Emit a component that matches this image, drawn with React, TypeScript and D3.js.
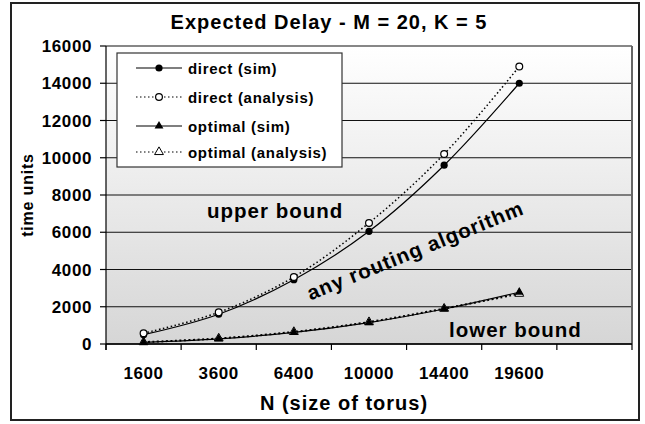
import React from 'react';
import * as d3 from 'd3';

const categories = ['1600', '3600', '6400', '10000', '14400', '19600', ''];
const directSim = [500, 1600, 3450, 6050, 9600, 14000];
const directAnalysis = [580, 1700, 3600, 6500, 10200, 14900];
const optimalSim = [90, 280, 620, 1150, 1880, 2780];
const optimalAnalysis = [100, 300, 650, 1180, 1900, 2700];
const yTicks = [0, 2000, 4000, 6000, 8000, 10000, 12000, 14000, 16000];
const legendLabels = ['direct (sim)', 'direct (analysis)', 'optimal (sim)', 'optimal (analysis)'];
const title = 'Expected Delay - M = 20, K = 5';
const xTitle = 'N (size of torus)';
const yTitle = 'time units';

const W = 645;
const H = 424;
const L = 106, R = 632, T = 46, B = 344;
const FONT = 'Arial, "Liberation Sans", Helvetica, sans-serif';

export default function App() {
  const x = d3.scaleBand<string>().domain(categories).range([L, R]).padding(0);
  const y = d3.scaleLinear().domain([0, 16000]).range([B, T]);
  const cx = (i: number) => (x(categories[i]) as number) + x.bandwidth() / 2;
  const line = d3
    .line<number>()
    .x((_, i) => cx(i))
    .y((v) => y(v))
    .curve(d3.curveCatmullRom.alpha(0.5));
  const tri = d3.symbol().type(d3.symbolTriangle).size(34)() as string;
  const bandEdges = categories.map((c) => x(c) as number).concat([R]);

  const legendRows = [
    { label: legendLabels[0], dash: undefined, marker: 'fc' },
    { label: legendLabels[1], dash: '1.5,2.5', marker: 'oc' },
    { label: legendLabels[2], dash: undefined, marker: 'ft' },
    { label: legendLabels[3], dash: '1.5,2.5', marker: 'ot' },
  ];
  const legendY = [68, 97, 126, 152];

  const marker = (kind: string, px: number, py: number, key: string) => {
    if (kind === 'fc') return <circle key={key} cx={px} cy={py} r={3.6} fill="#000" />;
    if (kind === 'oc')
      return <circle key={key} cx={px} cy={py} r={3.4} fill="#fff" stroke="#000" strokeWidth={1.2} />;
    if (kind === 'ft') return <path key={key} d={tri} transform={`translate(${px},${py})`} fill="#000" />;
    return (
      <path key={key} d={tri} transform={`translate(${px},${py})`} fill="#fff" stroke="#000" strokeWidth={1} />
    );
  };

  const textStyle = { fontFamily: FONT, fontWeight: 'bold' as const };

  return (
    <svg width={W} height={H} style={{ position: 'absolute', left: 0, top: 0, background: '#fff' }}>
      <defs>
        <linearGradient id="bg" x1="0" y1="0" x2="0" y2="1">
          <stop offset="0" stopColor="#ffffff" />
          <stop offset="1" stopColor="#d6d6d6" />
        </linearGradient>
      </defs>
      <rect x={11} y={3} width={628} height={417} fill="#fff" stroke="#222" strokeWidth={2} />

      {/* title */}
      <text x={329} y={29} textAnchor="middle" fontSize={20} letterSpacing={1} {...textStyle}>
        {title}
      </text>

      {/* plot area */}
      <rect x={L} y={T} width={R - L} height={B - T} fill="url(#bg)" />
      {yTicks.map((t) => (
        <line key={'g' + t} x1={L} x2={R} y1={y(t)} y2={y(t)} stroke="#111" strokeWidth={1.2} />
      ))}
      <line x1={R} x2={R} y1={T} y2={B} stroke="#666" strokeWidth={2} />
      <line x1={L} x2={L} y1={T} y2={B + 6} stroke="#000" strokeWidth={1.2} />
      <line x1={L} x2={R} y1={B} y2={B} stroke="#000" strokeWidth={1.5} />

      {/* y ticks */}
      {yTicks.map((t) => (
        <g key={'yt' + t}>
          <line x1={L - 6} x2={L} y1={y(t)} y2={y(t)} stroke="#000" strokeWidth={1.2} />
          <text x={92} y={y(t) + 6} textAnchor="end" fontSize={17} letterSpacing={0.6} {...textStyle}>
            {t}
          </text>
        </g>
      ))}
      {/* x ticks */}
      {bandEdges.map((e, i) => (
        <line key={'xt' + i} x1={e} x2={e} y1={B} y2={B + 6} stroke="#000" strokeWidth={1.2} />
      ))}
      {categories.map((c, i) =>
        c ? (
          <text key={'xl' + c} x={cx(i)} y={379} textAnchor="middle" fontSize={17} letterSpacing={0.6} {...textStyle}>
            {c}
          </text>
        ) : null
      )}
      <text x={344} y={410} textAnchor="middle" fontSize={20} letterSpacing={1} {...textStyle}>
        {xTitle}
      </text>
      <text
        transform={`translate(33,195) rotate(-90)`}
        textAnchor="middle"
        fontSize={16}
        letterSpacing={0.8}
        {...textStyle}
      >
        {yTitle}
      </text>

      {/* annotations */}
      <text x={207} y={218} fontSize={20.5} letterSpacing={1} {...textStyle}>
        upper bound
      </text>
      <text
        transform="translate(418,257) rotate(-22)"
        textAnchor="middle"
        fontSize={20.5}
        letterSpacing={1}
        {...textStyle}
      >
        any routing algorithm
      </text>
      <text x={449} y={337} fontSize={20.5} letterSpacing={1} {...textStyle}>
        lower bound
      </text>

      {/* series */}
      <path d={line(directSim) as string} fill="none" stroke="#000" strokeWidth={1.2} />
      <path d={line(directAnalysis) as string} fill="none" stroke="#000" strokeWidth={1.5} strokeDasharray="1.5,2.5" />
      <path d={line(optimalAnalysis) as string} fill="none" stroke="#000" strokeWidth={2} strokeDasharray="2,2.5" />
      <path d={line(optimalSim) as string} fill="none" stroke="#000" strokeWidth={1.2} />
      {directSim.map((v, i) => marker('fc', cx(i), y(v), 'ds' + i))}
      {directAnalysis.map((v, i) => marker('oc', cx(i), y(v), 'da' + i))}
      {optimalAnalysis.map((v, i) => marker('ot', cx(i), y(v), 'oa' + i))}
      {optimalSim.map((v, i) => marker('ft', cx(i), y(v), 'os' + i))}

      {/* legend */}
      <rect x={117} y={53} width={225} height={114} fill="#fff" stroke="#333" strokeWidth={1.2} />
      {legendRows.map((r, i) => (
        <g key={'lg' + i}>
          <line x1={136} x2={182} y1={legendY[i]} y2={legendY[i]} stroke="#000" strokeWidth={1.2} strokeDasharray={r.dash} />
          {marker(r.marker, 159, legendY[i], 'lm' + i)}
          <text x={188} y={legendY[i] + 5.5} fontSize={15} letterSpacing={0.7} {...textStyle}>
            {r.label}
          </text>
        </g>
      ))}
    </svg>
  );
}
